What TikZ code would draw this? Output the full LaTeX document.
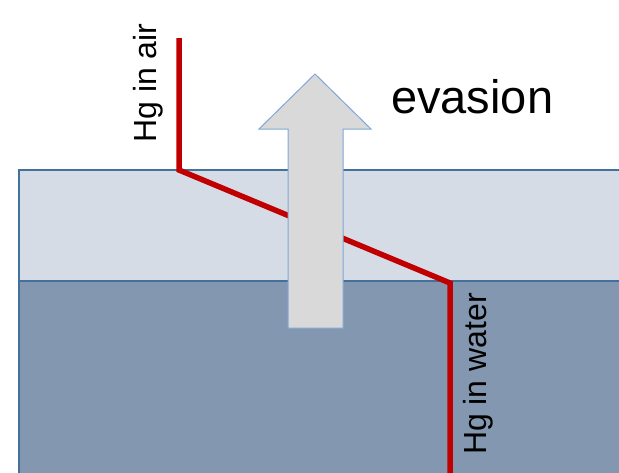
\documentclass[tikz,border=0pt]{standalone}
\usepackage{fontspec}
\setmainfont{Liberation Sans}
\usepackage{xcolor}
\definecolor{AirFill}{RGB}{214,220,229}
\definecolor{WaterFill}{RGB}{132,151,176}
\definecolor{LayerBorder}{RGB}{65,113,156}
\definecolor{HgRed}{RGB}{192,0,0}
\definecolor{ArrowFill}{RGB}{217,217,217}
\definecolor{ArrowBorder}{RGB}{127,168,214}
\usetikzlibrary{positioning, calc}
\tikzset{
  % Layer boxes
  layer/.style={draw=LayerBorder, line width=2pt},
  % Mercury path
  hgpath/.style={draw=HgRed, line width=5.5pt},
  % Block arrow
  blockarr/.style={fill=ArrowFill, draw=ArrowBorder, line width=1pt},
  % Labels
  sidelabel/.style={font=\fontsize{32}{35}\selectfont, rotate=90, inner sep=0pt},
  biglabel/.style={font=\fontsize{47}{50}\selectfont, inner sep=0pt},
}
\begin{document}
\begin{tikzpicture}[x=1pt, y=-1pt]
  \useasboundingbox (0,0) rectangle (619,472);
  \clip (0,0) rectangle (619,472);

  % Layers
  \draw[layer, fill=WaterFill] (19,281) rectangle (640,490);
  \draw[layer, fill=AirFill] (19,170) rectangle (640,281);

  % Mercury path
  \coordinate (airtop) at (179,38);
  \coordinate (airkink) at (179,170);
  \coordinate (waterkink) at (450,283);
  \coordinate (waterbot) at (450,480);
  \draw[hgpath] (airtop) -- (airkink) -- (waterkink) -- (waterbot);

  % Evasion arrow
  \draw[blockarr] (288,328) -- (288,129) -- (259,129) -- (315,74)
    -- (371,129) -- (343,129) -- (343,328) -- cycle;

  % Labels
  \node[sidelabel] (airlbl) at (148,83) {Hg in air};
  \node[sidelabel] (waterlbl) at (478,374) {Hg in water};
  \node[biglabel, anchor=base west] (evalbl) at (391,113) {evasion};
\end{tikzpicture}
\end{document}
